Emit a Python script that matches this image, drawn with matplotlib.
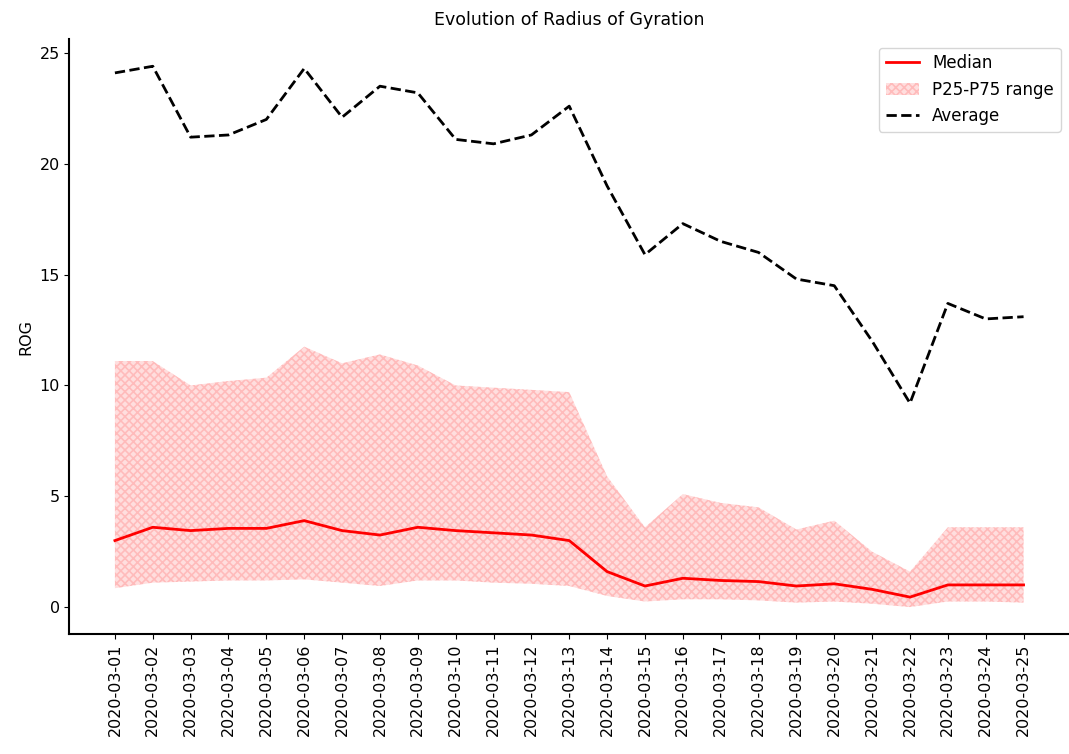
import matplotlib
matplotlib.use('Agg')
import matplotlib.pyplot as plt

dates = ['2020-03-%02d' % d for d in range(1, 26)]

average = [24.1, 24.4, 21.2, 21.3, 22.0, 24.3, 22.1, 23.5, 23.2, 21.1, 20.9, 21.3, 22.6,
           19.0, 15.9, 17.3, 16.5, 16.0, 14.8, 14.5, 12.0, 9.2, 13.7, 13.0, 13.1]
median = [3.0, 3.6, 3.45, 3.55, 3.55, 3.9, 3.45, 3.25, 3.6, 3.45, 3.35, 3.25, 3.0,
          1.6, 0.95, 1.3, 1.2, 1.15, 0.95, 1.05, 0.8, 0.45, 1.0, 1.0, 1.0]
p75 = [11.1, 11.1, 10.0, 10.2, 10.35, 11.75, 11.0, 11.4, 10.9, 10.0, 9.9, 9.8, 9.7,
       5.9, 3.6, 5.1, 4.7, 4.5, 3.5, 3.9, 2.5, 1.6, 3.6, 3.6, 3.6]
p25 = [0.85, 1.1, 1.15, 1.2, 1.2, 1.25, 1.1, 0.95, 1.2, 1.2, 1.1, 1.05, 0.95,
       0.5, 0.25, 0.35, 0.35, 0.3, 0.2, 0.25, 0.15, 0.0, 0.25, 0.25, 0.2]

plt.rcParams['font.size'] = 11.5
plt.rcParams['hatch.linewidth'] = 1.2

fig = plt.figure(figsize=(10.69, 7.54), dpi=100)
ax = fig.add_axes([0.065, 0.159, 0.935, 0.789])

x = range(len(dates))
ax.plot(x, median, color='red', linewidth=2, label='Median')
ax.fill_between(x, p25, p75, facecolor=(1, 0, 0, 0.13), edgecolor=(1, 0.2, 0.2, 0.2),
                hatch='xxxx', linewidth=0, label='P25-P75 range')
ax.plot(x, average, color='black', linestyle='--', linewidth=2, label='Average')

ax.set_xticks(list(x))
ax.set_xticklabels(dates, rotation=90)
ax.set_ylabel('ROG')
ax.set_title('Evolution of Radius of Gyration', fontsize=12.5, pad=10)
ax.spines['top'].set_visible(False)
ax.spines['right'].set_visible(False)
for s in ['left', 'bottom']:
    ax.spines[s].set_linewidth(1.5)
ax.legend(loc='upper right', fontsize=12)

fig.savefig('out.png', dpi=100)
